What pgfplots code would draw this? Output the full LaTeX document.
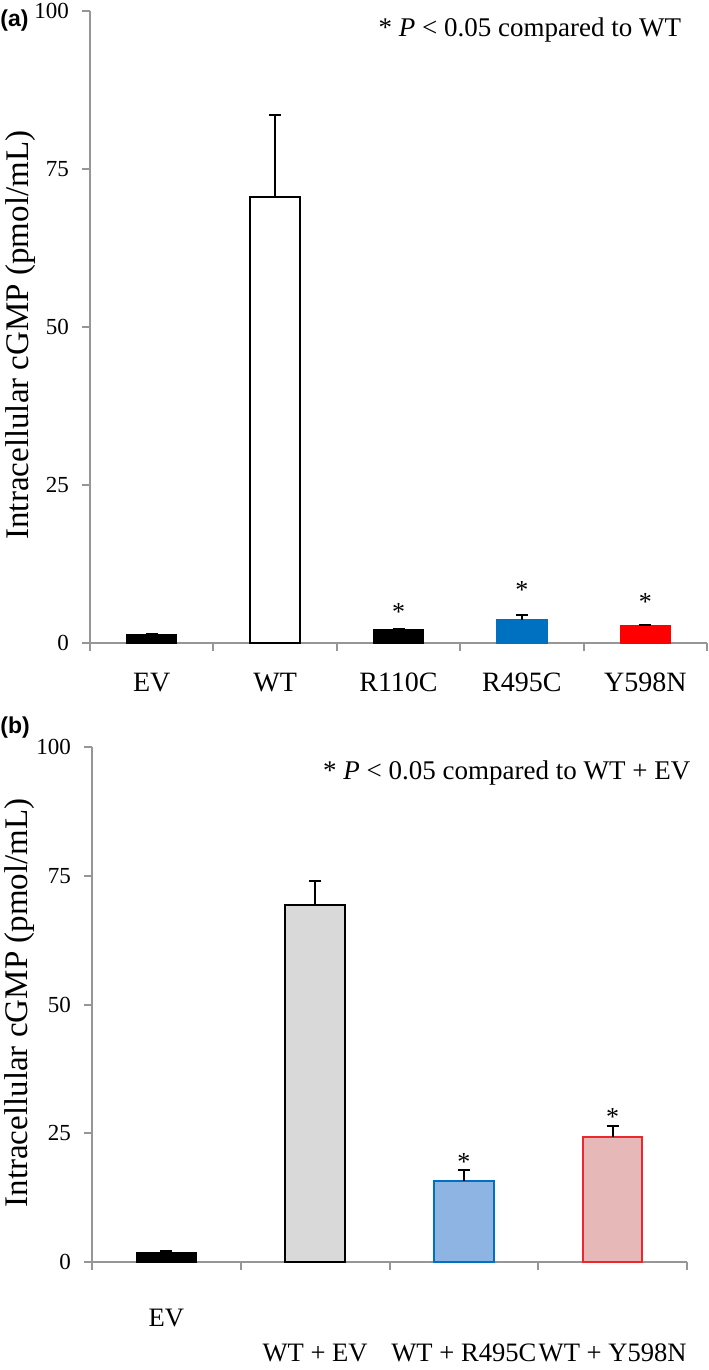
\documentclass[border=0pt]{standalone}
\usepackage{fontspec}
\setmainfont{Liberation Serif}
\newfontfamily\arialfont{Liberation Sans}
\usepackage{pgfplots}
\pgfplotsset{compat=1.18}
\definecolor{axgray}{RGB}{150,150,150}
\definecolor{exblue}{RGB}{0,112,192}
\definecolor{lblue}{RGB}{141,180,226}
\definecolor{lpink}{RGB}{230,184,183}
\definecolor{lgray}{RGB}{217,217,217}
\definecolor{exred}{RGB}{255,0,0}
\definecolor{bred}{RGB}{235,40,45}
\tikzset{starnode/.style={anchor=base, font=\fontsize{13bp}{15bp}\selectfont}}
\pgfplotsset{
  myaxis/.style={
    scale only axis,
    anchor=south west,
    axis lines*=left,
    axis line style={axgray, line width=1bp},
    tick style={axgray, line width=1bp},
    tick align=outside,
    ymin=0, ymax=100, ytick={0,25,50,75,100},
    xmin=-0.5,
    major tick length=4bp,
    /pgf/number format/assume math mode=true,
    yticklabel style={font=\fontsize{11.5bp}{13bp}\selectfont, xshift=-3bp},
    xticklabels={},
    extra x tick style={major tick length=0pt, xticklabel style={anchor=base}},
    ylabel style={font=\fontsize{16.5bp}{18bp}\selectfont},
    clip=false,
  },
  bars/.style={ybar, bar width=0.4, bar shift=0pt, line width=1bp,
    error bars/y dir=plus, error bars/y explicit,
    error bars/error bar style={black, line width=1bp},
    error bars/error mark options={black, rotate=90, mark size=3bp, line width=1bp}},
}
\begin{document}
\begin{tikzpicture}
\useasboundingbox (0,0) rectangle (354.5bp,-685bp);
\node[anchor=west, inner sep=0pt, font=\arialfont\bfseries\fontsize{11.5bp}{14bp}\selectfont] at (0bp,-10.5bp) {(a)};
\node[anchor=west, inner sep=0pt, font=\arialfont\bfseries\fontsize{11.5bp}{14bp}\selectfont] at (0bp,-364bp) {(b)};
% Panel (a)
\begin{axis}[myaxis, at={(45bp,-321.5bp)}, width=308.5bp, height=316bp, xmax=4.5,
  xtick={-0.5,0.5,1.5,2.5,3.5,4.5},
  extra x ticks={0,1,2,3,4},
  extra x tick labels={EV,WT,R110C,R495C,Y598N},
  extra x tick style={xticklabel style={yshift=-24bp, font=\fontsize{14bp}{16bp}\selectfont}},
  ylabel={Intracellular cGMP (pmol/mL)},
  ylabel style={at={(axis description cs:-0.113,0.487)}, anchor=center},
]
\addplot[bars, fill=black, draw=black] coordinates {(0,1.2) +- (0,0.2)};
\addplot[bars, fill=white, draw=black] coordinates {(1,70.5) +- (0,13.0)};
\addplot[bars, fill=black, draw=black] coordinates {(2,2.0) +- (0,0.2)};
\addplot[bars, fill=exblue, draw=exblue] coordinates {(3,3.6) +- (0,0.9)};
\addplot[bars, fill=exred, draw=exred] coordinates {(4,2.7) +- (0,0.2)};
\node[starnode] at (axis cs:2,3.6) {*};
\node[starnode] at (axis cs:3,7.1) {*};
\node[starnode] at (axis cs:4,5.2) {*};
\node[anchor=center, font=\fontsize{13.5bp}{15bp}\selectfont] at (axis description cs:0.713,0.97) {* \textit{P} < 0.05 compared to WT};
\end{axis}
% Panel (b)
\begin{axis}[myaxis, at={(46bp,-631bp)}, width=297.5bp, height=257.5bp, xmax=3.5,
  xtick={-0.5,0.5,1.5,2.5,3.5},
  extra x ticks={0,1,2,3},
  extra x tick labels={EV,\raisebox{-17.5bp}{WT + EV},\raisebox{-17.5bp}{WT + R495C},\raisebox{-17.5bp}{WT + Y598N}},
  extra x tick style={xticklabel style={yshift=-32bp, font=\fontsize{13.3bp}{15bp}\selectfont}},
  ylabel={Intracellular cGMP (pmol/mL)},
  ylabel style={at={(axis description cs:-0.121,0.503)}, anchor=center},
]
\addplot[bars, fill=black, draw=black] coordinates {(0,1.8) +- (0,0.3)};
\addplot[bars, fill=lgray, draw=black] coordinates {(1,69.3) +- (0,4.7)};
\addplot[bars, fill=lblue, draw=exblue] coordinates {(2,15.8) +- (0,2.0)};
\addplot[bars, fill=lpink, draw=bred] coordinates {(3,24.3) +- (0,2.2)};
\node[starnode] at (axis cs:2,17.8) {*};
\node[starnode] at (axis cs:3,26.5) {*};
\node[anchor=center, font=\fontsize{13.5bp}{15bp}\selectfont] at (axis description cs:0.697,0.95) {* \textit{P} < 0.05 compared to WT + EV};
\end{axis}
\end{tikzpicture}
\end{document}
